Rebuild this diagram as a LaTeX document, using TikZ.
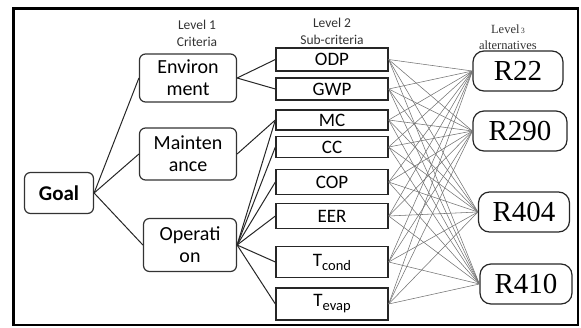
\documentclass[tikz,border=0pt]{standalone}
\usepackage{fontspec}
\setmainfont{Carlito}
\newfontfamily\rmserif{Liberation Serif}
\usetikzlibrary{positioning}

\tikzset{
  crit/.style={draw=black!80, line width=1.2pt, rounded corners=6pt, align=center,
    inner sep=0pt, font=\fontsize{20}{22}\selectfont},
  subbox/.style={draw=black!85, line width=1.3pt, minimum width=112pt, inner sep=0pt,
    font=\fontsize{19}{20}\selectfont},
  alt/.style={draw=black!85, line width=1.2pt, rounded corners=11pt, minimum height=40pt,
    inner sep=0pt, font=\rmserif\fontsize{29}{30}\selectfont},
  lvl/.style={font=\fontsize{13.5}{17}\selectfont, align=center, text=black!80},
  link/.style={draw=black!85, line width=1pt},
  mesh/.style={draw=black!55, line width=0.55pt}
}

\begin{document}
\begin{tikzpicture}[x=1pt, y=-1pt]
    \useasboundingbox (0,0) rectangle (581,327);

    % 1. Frame
    \draw[line width=2pt] (13,8) rectangle (578,325);
    \draw[line width=3pt] (13,325) -- (13,8) -- (578,8);

    % 2. Level headings
    \node[lvl] (head1) at (197,33) {Level 1\\Criteria};
    \node[lvl] (head2) at (332,31) {Level 2\\Sub-criteria};
    \node[lvl, font=\rmserif\fontsize{12.5}{16}\selectfont] (head3) at (508,37)
        {Level{\fontsize{8}{8}\selectfont\,3}\\alternatives};

    % 3. Goal and Level 1
    \node[crit, minimum width=69pt, minimum height=41pt, font=\fontsize{21}{24}\selectfont\bfseries]
        (goal) at (59,193) {Goal};
    \node[crit, minimum width=97pt, minimum height=48pt] (env) at (188,78) {Environ\\ment};
    \node[crit, minimum width=97pt, minimum height=52pt] (maint) at (188,154) {Mainten\\ance};
    \node[crit, minimum width=93pt, minimum height=53pt] (oper) at (190,245) {Operati\\on};

    % 4. Level 2 sub-criteria
    \node[subbox, minimum height=23pt] (odp) at (332,59.5) {ODP};
    \node[subbox, minimum height=22pt] (gwp) at (332,89) {GWP};
    \node[subbox, minimum height=20pt] (mc) at (332,120) {MC};
    \node[subbox, minimum height=21pt] (cc) at (332,147) {CC};
    \node[subbox, minimum height=25pt] (cop) at (332,182) {COP};
    \node[subbox, minimum height=25pt] (eer) at (332,216) {EER};
    \node[subbox, minimum height=31pt] (tcond) at (332,262)
        {T\raisebox{-0.45ex}{\fontsize{14.5}{14}\selectfont cond}};
    \node[subbox, minimum height=32pt] (tevap) at (332,304)
        {T\raisebox{-0.45ex}{\fontsize{14.5}{14}\selectfont evap}};

    % 5. Level 3 alternatives
    \node[alt, minimum width=90pt] (r22) at (518,71) {R22};
    \node[alt, minimum width=94pt] (r290) at (520,131) {R290};
    \node[alt, minimum width=91pt] (r404) at (524,212) {R404};
    \node[alt, minimum width=92pt] (r410) at (526,284) {R410};

    % 6. Goal -> criteria -> sub-criteria
    \foreach \c in {env, maint, oper}
        \draw[link] (goal.east) -- (\c.west);
    \foreach \s in {odp, gwp}
        \draw[link] (env.east) -- (\s.west);
    \draw[link] (maint.east) -- (mc.west);
    \foreach \s in {mc, cc, cop, eer, tcond, tevap}
        \draw[link] (oper.east) -- (\s.west);

    % 7. Sub-criteria -> alternatives (all pairs)
    \foreach \s in {odp, gwp, mc, cc, cop, eer, tcond, tevap} {
        \foreach \a in {r22, r290, r404, r410} {
            \draw[mesh] (\s.east) -- (\a.west);
        }
    }

\end{tikzpicture}
\end{document}
